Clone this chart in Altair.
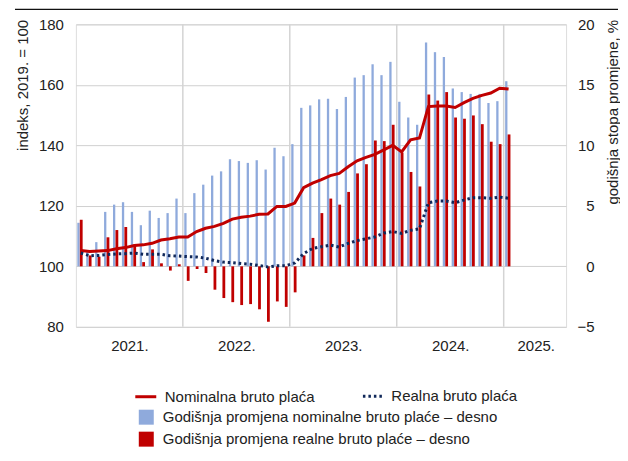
import altair as alt
import pandas as pd

# ---------------- data ----------------
months = [f"{y}-{m:02d}" for y in range(2021, 2025) for m in range(1, 13)] + ["2025-01"]

nominal_index = [105.2, 104.9, 105.1, 105.2, 105.8, 106.2, 106.9, 107.1, 107.6, 108.7,
                 109.1, 109.7, 109.7, 111.5, 112.6, 113.2, 114.2, 115.6, 116.2, 116.6,
                 117.2, 117.3, 119.8, 119.8, 120.9, 126.0, 127.5, 128.7, 130.0, 130.7,
                 132.9, 134.9, 136.0, 137.0, 138.5, 140.0, 137.8, 141.8, 142.4, 152.8,
                 153.0, 153.0, 152.5, 154.1, 155.5, 156.5, 157.3, 158.9, 158.6]

real_index = [104.4, 103.5, 103.6, 103.9, 104.1, 104.2, 104.4, 104.0, 104.0, 104.0,
              103.5, 103.4, 103.2, 103.1, 102.7, 101.9, 101.4, 101.2, 100.9, 100.7,
              100.3, 99.8, 100.2, 100.2, 101.1, 104.2, 105.9, 106.5, 107.0, 106.4,
              107.6, 108.5, 109.1, 109.7, 111.0, 111.5, 110.9, 111.9, 112.4, 121.0,
              121.6, 121.6, 121.0, 121.9, 122.7, 122.7, 122.5, 122.9, 122.5]

nominal_yoy = [3.6, 1.2, 2.0, 4.5, 5.1, 5.3, 4.5, 3.4, 4.6, 4.0,
               4.4, 5.6, 4.4, 6.05, 6.75, 7.5, 7.85, 8.85, 8.7, 8.55,
               8.77, 8.0, 9.8, 9.1, 10.1, 13.1, 13.3, 13.8, 13.85, 13.0,
               14.0, 15.6, 15.8, 16.7, 15.8, 16.9, 13.6, 12.3, 11.7, 18.5,
               17.7, 17.3, 14.7, 14.4, 14.25, 14.25, 13.5, 13.65, 15.3]

real_yoy = [3.85, 0.9, 0.8, 2.4, 3.0, 3.25, 1.8, 0.35, 1.4, 0.25,
            -0.35, 0.17, -1.2, -0.22, -0.55, -1.93, -2.62, -2.96, -3.2, -3.12,
            -3.55, -4.58, -2.9, -3.35, -2.15, 0.9, 2.35, 4.4, 5.6, 5.1,
            6.15, 7.68, 8.44, 10.4, 10.35, 11.7, 9.4, 7.8, 6.6, 14.2,
            13.7, 14.4, 12.3, 12.2, 12.47, 11.75, 10.3, 10.1, 10.9]

year_labels = ["2021.", "2022.", "2023.", "2024.", "2025."]
year_label_pos = [6, 18, 30, 42, 51.6]
year_bounds = [12, 24, 36, 48]

left_ticks = [80, 100, 120, 140, 160, 180]
right_ticks = [-5, 0, 5, 10, 15, 20]

lbl_nom_line = "Nominalna bruto plaća"
lbl_real_line = "Realna bruto plaća"
lbl_nom_bar = "Godišnja promjena nominalne bruto plaće – desno"
lbl_real_bar = "Godišnja promjena realne bruto plaće – desno"

df = pd.DataFrame({
    "month": months,
    "i": list(range(len(months))),
    "nominal_index": nominal_index,
    "real_index": real_index,
    "nominal_yoy": nominal_yoy,
    "real_yoy": real_yoy,
})

# ---------------- styling ----------------
FONT = "Liberation Sans Narrow, Arial Narrow, Liberation Sans, sans-serif"
RED = "#c00000"
BLUE = "#8faadc"
NAVY = "#10285a"
W, H = 491, 303

label_expr = " : ".join(
    f"datum.value == {p} ? '{l}'" for p, l in zip(year_label_pos, year_labels)
) + " : ''"

xscale = alt.Scale(domain=[0, 55], nice=False, zero=False, padding=0)
xaxis = alt.Axis(values=year_label_pos, labelExpr=label_expr, grid=False, ticks=False,
                 domain=False, labelPadding=12, labelFontSize=15, labelFont=FONT,
                 labelColor="#222", title=None)

yr_scale = alt.Scale(domain=[-5, 20], nice=False, zero=False, padding=0)
yr_axis = alt.Axis(orient="right", values=right_ticks, grid=False, ticks=False, tickSize=0,
                   domain=False, labelAlign="right", labelPadding=28, labelFontSize=15,
                   labelFont=FONT, labelColor="#222",
                   title="godišnja stopa promjene, %", titleFont=FONT, titleFontSize=15,
                   titleFontWeight="normal", titleColor="#222", titleAngle=270,
                   titleAlign="right", titleBaseline="middle", titleX=46, titleY=-5)

yl_scale = alt.Scale(domain=[80, 180], nice=False, zero=False, padding=0)
yl_axis = alt.Axis(orient="left", values=left_ticks, grid=True, gridColor="#d0d0d0",
                   gridWidth=1, ticks=False, tickSize=0, domain=False, labelPadding=12.5,
                   labelFontSize=15, labelFont=FONT, labelColor="#222",
                   title="indeks, 2019. = 100", titleFont=FONT, titleFontSize=15,
                   titleFontWeight="normal", titleColor="#222", titleAngle=270,
                   titleAlign="right", titleBaseline="middle", titleX=-53, titleY=-5)

fill_scale = alt.Scale(domain=[lbl_nom_bar, lbl_real_bar], range=[BLUE, RED])
fill_legend = alt.Legend(orient="none", legendX=63, legendY=386, title=None,
                         symbolType="square", symbolSize=225, symbolStrokeWidth=0,
                         labelOffset=9, rowPadding=6, padding=0, labelLimit=0,
                         labelFont=FONT, labelFontSize=15, labelColor="#222")

base = alt.Chart(df)

rules = alt.Chart(pd.DataFrame({"b": year_bounds})).mark_rule(
    color="#d4d4d4", strokeWidth=1.5
).encode(x=alt.X("b:Q", scale=xscale, axis=xaxis))

blue = base.transform_calculate(
    xb="datum.i + 0.29", cat=f"'{lbl_nom_bar}'"
).mark_bar(size=2.3).encode(
    x=alt.X("xb:Q", scale=xscale, axis=xaxis),
    y=alt.Y("nominal_yoy:Q", scale=yr_scale, axis=yr_axis),
    fill=alt.Fill("cat:N", scale=fill_scale, legend=fill_legend),
)

red = base.transform_calculate(
    xr="datum.i + 0.6", cat=f"'{lbl_real_bar}'"
).mark_bar(size=2.8).encode(
    x=alt.X("xr:Q", scale=xscale, axis=xaxis),
    y=alt.Y("real_yoy:Q", scale=yr_scale, axis=yr_axis),
    fill=alt.Fill("cat:N", scale=fill_scale, legend=fill_legend),
)

bars = alt.layer(rules, blue, red)

nom = base.transform_calculate(
    xl="datum.i + 0.55", s=f"'{lbl_nom_line}'"
).mark_line(strokeWidth=3).encode(
    x=alt.X("xl:Q", scale=xscale, axis=xaxis),
    y=alt.Y("nominal_index:Q", scale=yl_scale, axis=yl_axis),
    stroke=alt.Stroke("s:N", scale=alt.Scale(domain=[lbl_nom_line], range=[RED]),
                      legend=alt.Legend(orient="none", legendX=58, legendY=361, title=None,
                                        symbolType="stroke", symbolSize=441,
                                        symbolStrokeWidth=3, labelOffset=7, padding=0,
                                        labelLimit=0, labelFont=FONT, labelFontSize=15,
                                        labelColor="#222")),
)

real = base.transform_calculate(
    xl="datum.i + 0.55", d=f"'{lbl_real_line}'"
).mark_line(strokeWidth=3, stroke=NAVY).encode(
    x=alt.X("xl:Q", scale=xscale, axis=xaxis),
    y=alt.Y("real_index:Q", scale=yl_scale, axis=yl_axis),
    strokeDash=alt.StrokeDash("d:N", scale=alt.Scale(domain=[lbl_real_line], range=[[2.5, 3]]),
                              legend=alt.Legend(orient="none", legendX=286, legendY=361,
                                                title=None, symbolType="stroke",
                                                symbolSize=400, symbolStrokeWidth=3,
                                                symbolStrokeColor=NAVY, labelOffset=7,
                                                padding=0, labelLimit=0, labelFont=FONT,
                                                labelFontSize=15, labelColor="#222")),
)

lines = alt.layer(nom, real)

top_rule = alt.Chart(pd.DataFrame({"k": [0]})).mark_rule(
    color="#111", strokeWidth=1.3
).encode(x=alt.value(-61), x2=alt.value(543), y=alt.value(-15))

chart = alt.layer(bars, lines, top_rule).resolve_scale(y="independent").properties(
    width=W, height=H, padding={"left": 6, "top": 0, "right": 0, "bottom": 4}
).configure_view(stroke="#4d4d4d", strokeWidth=1.2).configure(background="white")

chart.save("out.html", embed_options={"renderer": "svg", "actions": False})
